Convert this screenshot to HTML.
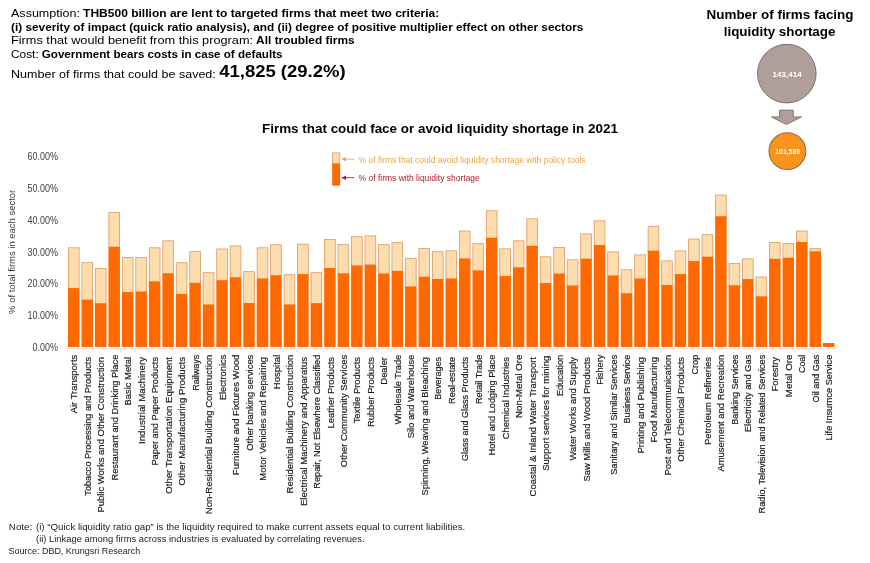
<!DOCTYPE html>
<html lang="en"><head><meta charset="utf-8"><title>Firms that could face or avoid liquidity shortage in 2021</title>
<style>
html,body{margin:0;padding:0;background:#fff;}
body{width:870px;height:563px;overflow:hidden;}
svg{display:block;}
text{font-family:"Liberation Sans",sans-serif;white-space:pre;}
</style></head><body>
<svg width="870" height="563" viewBox="0 0 870 563">
<rect width="870" height="563" fill="#fff"/>
<g id="header">
<text x="11.00" y="17.40" font-size="11.3" font-weight="400" fill="#000" text-anchor="start" textLength="68.99" lengthAdjust="spacingAndGlyphs">Assumption:</text><text x="83.05" y="17.40" font-size="11.3" font-weight="700" fill="#000" text-anchor="start" textLength="356.27" lengthAdjust="spacingAndGlyphs">THB500 billion are lent to targeted firms that meet two criteria:</text>
<text x="11.00" y="30.80" font-size="11.3" font-weight="700" fill="#000" text-anchor="start" textLength="572.37" lengthAdjust="spacingAndGlyphs">(i) severity of impact (quick ratio analysis), and (ii) degree of positive multiplier effect on other sectors</text>
<text x="11.00" y="44.30" font-size="11.3" font-weight="400" fill="#000" text-anchor="start" textLength="242.06" lengthAdjust="spacingAndGlyphs">Firms that would benefit from this program:</text><text x="256.13" y="44.30" font-size="11.3" font-weight="700" fill="#000" text-anchor="start" textLength="98.49" lengthAdjust="spacingAndGlyphs">All troubled firms</text>
<text x="11.00" y="58.20" font-size="11.3" font-weight="400" fill="#000" text-anchor="start" textLength="27.72" lengthAdjust="spacingAndGlyphs">Cost:</text><text x="41.79" y="58.20" font-size="11.3" font-weight="700" fill="#000" text-anchor="start" textLength="240.71" lengthAdjust="spacingAndGlyphs">Government bears costs in case of defaults</text>
<text x="11.00" y="77.60" font-size="11.3" font-weight="400" fill="#000" text-anchor="start" textLength="204.83" lengthAdjust="spacingAndGlyphs">Number of firms that could be saved:</text>
<text x="219.20" y="77.40" font-size="15.6" font-weight="700" fill="#000" text-anchor="start" textLength="126.40" lengthAdjust="spacingAndGlyphs">41,825 (29.2%)</text>
</g>
<text x="262.00" y="132.90" font-size="12.3" font-weight="700" fill="#000" text-anchor="start" textLength="355.90" lengthAdjust="spacingAndGlyphs">Firms that could face or avoid liquidity shortage in 2021</text>
<text x="706.60" y="19.00" font-size="12.5" font-weight="700" fill="#000" text-anchor="start" textLength="146.90" lengthAdjust="spacingAndGlyphs">Number of firms facing</text>
<text x="723.70" y="36.20" font-size="12.5" font-weight="700" fill="#000" text-anchor="start" textLength="111.80" lengthAdjust="spacingAndGlyphs">liquidity shortage</text>
<circle cx="786.8" cy="73.6" r="29.3" fill="#B09E9B" stroke="#806E6B" stroke-width="1"/>
<text x="772.60" y="77.00" font-size="7.8" font-weight="700" fill="#fff" text-anchor="start" textLength="29.00" lengthAdjust="spacingAndGlyphs">143,414</text>
<path d="M779.6 110.1H793.2V116.9H801.6L786.4 124.5L771.4 116.9H779.6Z" fill="#B09E9B" stroke="#806E6B" stroke-width="0.9"/>
<circle cx="787.4" cy="151.1" r="18.4" fill="#F8931D" stroke="#9A6A3E" stroke-width="1.1"/>
<text x="775.30" y="153.50" font-size="6.5" font-weight="700" fill="#fff" text-anchor="start" textLength="24.70" lengthAdjust="spacingAndGlyphs">101,589</text>
<rect x="332.6" y="152.9" width="7.2" height="10.8" fill="#FDDCAE" stroke="#DE9A62" stroke-width="0.8"/>
<rect x="332.2" y="163.7" width="8" height="22" fill="#FF6A00"/>
<path d="M342 159.2H354.2" stroke="#EFA94A" stroke-width="0.9" fill="none"/><path d="M341.6 159.2L346 157V161.4Z" fill="#EFA94A"/>
<path d="M342 177.7H354.2" stroke="#B01C2E" stroke-width="0.9" fill="none"/><path d="M341.6 177.7L346 175.5V179.9Z" fill="#B01C2E"/>
<text x="358.60" y="162.80" font-size="9.0" font-weight="400" fill="#E9A646" text-anchor="start" textLength="227.00" lengthAdjust="spacingAndGlyphs">% of firms that could avoid liquidity shortage with policy tools</text>
<text x="358.60" y="180.60" font-size="9.0" font-weight="400" fill="#A81C30" text-anchor="start" textLength="121.20" lengthAdjust="spacingAndGlyphs">% of firms with liquidity shortage</text>
<text x="32.60" y="351.00" font-size="10" font-weight="400" fill="#404040" text-anchor="start" textLength="25.30" lengthAdjust="spacingAndGlyphs">0.00%</text>
<text x="27.50" y="319.20" font-size="10" font-weight="400" fill="#404040" text-anchor="start" textLength="30.40" lengthAdjust="spacingAndGlyphs">10.00%</text>
<text x="27.50" y="287.40" font-size="10" font-weight="400" fill="#404040" text-anchor="start" textLength="30.40" lengthAdjust="spacingAndGlyphs">20.00%</text>
<text x="27.50" y="255.60" font-size="10" font-weight="400" fill="#404040" text-anchor="start" textLength="30.40" lengthAdjust="spacingAndGlyphs">30.00%</text>
<text x="27.50" y="223.80" font-size="10" font-weight="400" fill="#404040" text-anchor="start" textLength="30.40" lengthAdjust="spacingAndGlyphs">40.00%</text>
<text x="27.50" y="192.00" font-size="10" font-weight="400" fill="#404040" text-anchor="start" textLength="30.40" lengthAdjust="spacingAndGlyphs">50.00%</text>
<text x="27.50" y="160.20" font-size="10" font-weight="400" fill="#404040" text-anchor="start" textLength="30.40" lengthAdjust="spacingAndGlyphs">60.00%</text>
<text transform="translate(14.7,313.9) rotate(-90)" font-size="9.4" fill="#333" textLength="124.1" lengthAdjust="spacingAndGlyphs">% of total firms in each sector</text>
<path d="M67 348.6H836" stroke="#E2E4E8" stroke-width="1"/>
<g id="bars">
<rect x="68.40" y="247.80" width="10.70" height="40.80" fill="#FDDCAE" stroke="#DE9A62" stroke-width="0.8"/>
<rect x="68.00" y="288.20" width="11.50" height="58.80" fill="#FF6A00"/>
<rect x="81.88" y="262.70" width="10.70" height="37.40" fill="#FDDCAE" stroke="#DE9A62" stroke-width="0.8"/>
<rect x="81.48" y="299.70" width="11.50" height="47.30" fill="#FF6A00"/>
<rect x="95.36" y="268.40" width="10.70" height="35.40" fill="#FDDCAE" stroke="#DE9A62" stroke-width="0.8"/>
<rect x="94.96" y="303.40" width="11.50" height="43.60" fill="#FF6A00"/>
<rect x="108.85" y="212.60" width="10.70" height="34.60" fill="#FDDCAE" stroke="#DE9A62" stroke-width="0.8"/>
<rect x="108.45" y="246.80" width="11.50" height="100.20" fill="#FF6A00"/>
<rect x="122.33" y="257.60" width="10.70" height="34.90" fill="#FDDCAE" stroke="#DE9A62" stroke-width="0.8"/>
<rect x="121.93" y="292.10" width="11.50" height="54.90" fill="#FF6A00"/>
<rect x="135.81" y="257.60" width="10.70" height="34.50" fill="#FDDCAE" stroke="#DE9A62" stroke-width="0.8"/>
<rect x="135.41" y="291.70" width="11.50" height="55.30" fill="#FF6A00"/>
<rect x="149.29" y="247.80" width="10.70" height="34.10" fill="#FDDCAE" stroke="#DE9A62" stroke-width="0.8"/>
<rect x="148.89" y="281.50" width="11.50" height="65.50" fill="#FF6A00"/>
<rect x="162.77" y="240.80" width="10.70" height="33.10" fill="#FDDCAE" stroke="#DE9A62" stroke-width="0.8"/>
<rect x="162.37" y="273.50" width="11.50" height="73.50" fill="#FF6A00"/>
<rect x="176.26" y="262.70" width="10.70" height="31.70" fill="#FDDCAE" stroke="#DE9A62" stroke-width="0.8"/>
<rect x="175.86" y="294.00" width="11.50" height="53.00" fill="#FF6A00"/>
<rect x="189.74" y="251.70" width="10.70" height="31.60" fill="#FDDCAE" stroke="#DE9A62" stroke-width="0.8"/>
<rect x="189.34" y="282.90" width="11.50" height="64.10" fill="#FF6A00"/>
<rect x="203.22" y="272.70" width="10.70" height="32.30" fill="#FDDCAE" stroke="#DE9A62" stroke-width="0.8"/>
<rect x="202.82" y="304.60" width="11.50" height="42.40" fill="#FF6A00"/>
<rect x="216.70" y="249.00" width="10.70" height="31.70" fill="#FDDCAE" stroke="#DE9A62" stroke-width="0.8"/>
<rect x="216.30" y="280.30" width="11.50" height="66.70" fill="#FF6A00"/>
<rect x="230.18" y="245.90" width="10.70" height="31.90" fill="#FDDCAE" stroke="#DE9A62" stroke-width="0.8"/>
<rect x="229.78" y="277.40" width="11.50" height="69.60" fill="#FF6A00"/>
<rect x="243.67" y="271.70" width="10.70" height="31.70" fill="#FDDCAE" stroke="#DE9A62" stroke-width="0.8"/>
<rect x="243.27" y="303.00" width="11.50" height="44.00" fill="#FF6A00"/>
<rect x="257.15" y="247.80" width="10.70" height="31.20" fill="#FDDCAE" stroke="#DE9A62" stroke-width="0.8"/>
<rect x="256.75" y="278.60" width="11.50" height="68.40" fill="#FF6A00"/>
<rect x="270.63" y="244.70" width="10.70" height="31.10" fill="#FDDCAE" stroke="#DE9A62" stroke-width="0.8"/>
<rect x="270.23" y="275.40" width="11.50" height="71.60" fill="#FF6A00"/>
<rect x="284.11" y="274.70" width="10.70" height="30.30" fill="#FDDCAE" stroke="#DE9A62" stroke-width="0.8"/>
<rect x="283.71" y="304.60" width="11.50" height="42.40" fill="#FF6A00"/>
<rect x="297.59" y="244.10" width="10.70" height="30.40" fill="#FDDCAE" stroke="#DE9A62" stroke-width="0.8"/>
<rect x="297.19" y="274.10" width="11.50" height="72.90" fill="#FF6A00"/>
<rect x="311.08" y="272.70" width="10.70" height="30.90" fill="#FDDCAE" stroke="#DE9A62" stroke-width="0.8"/>
<rect x="310.68" y="303.20" width="11.50" height="43.80" fill="#FF6A00"/>
<rect x="324.56" y="239.40" width="10.70" height="29.00" fill="#FDDCAE" stroke="#DE9A62" stroke-width="0.8"/>
<rect x="324.16" y="268.00" width="11.50" height="79.00" fill="#FF6A00"/>
<rect x="338.04" y="244.70" width="10.70" height="29.20" fill="#FDDCAE" stroke="#DE9A62" stroke-width="0.8"/>
<rect x="337.64" y="273.50" width="11.50" height="73.50" fill="#FF6A00"/>
<rect x="351.52" y="236.70" width="10.70" height="29.30" fill="#FDDCAE" stroke="#DE9A62" stroke-width="0.8"/>
<rect x="351.12" y="265.60" width="11.50" height="81.40" fill="#FF6A00"/>
<rect x="365.00" y="235.90" width="10.70" height="29.20" fill="#FDDCAE" stroke="#DE9A62" stroke-width="0.8"/>
<rect x="364.60" y="264.70" width="11.50" height="82.30" fill="#FF6A00"/>
<rect x="378.49" y="244.70" width="10.70" height="29.40" fill="#FDDCAE" stroke="#DE9A62" stroke-width="0.8"/>
<rect x="378.09" y="273.70" width="11.50" height="73.30" fill="#FF6A00"/>
<rect x="391.97" y="242.70" width="10.70" height="28.60" fill="#FDDCAE" stroke="#DE9A62" stroke-width="0.8"/>
<rect x="391.57" y="270.90" width="11.50" height="76.10" fill="#FF6A00"/>
<rect x="405.45" y="258.60" width="10.70" height="28.40" fill="#FDDCAE" stroke="#DE9A62" stroke-width="0.8"/>
<rect x="405.05" y="286.60" width="11.50" height="60.40" fill="#FF6A00"/>
<rect x="418.93" y="248.60" width="10.70" height="28.60" fill="#FDDCAE" stroke="#DE9A62" stroke-width="0.8"/>
<rect x="418.53" y="276.80" width="11.50" height="70.20" fill="#FF6A00"/>
<rect x="432.41" y="251.70" width="10.70" height="27.70" fill="#FDDCAE" stroke="#DE9A62" stroke-width="0.8"/>
<rect x="432.01" y="279.00" width="11.50" height="68.00" fill="#FF6A00"/>
<rect x="445.90" y="250.80" width="10.70" height="28.20" fill="#FDDCAE" stroke="#DE9A62" stroke-width="0.8"/>
<rect x="445.50" y="278.60" width="11.50" height="68.40" fill="#FF6A00"/>
<rect x="459.38" y="231.00" width="10.70" height="28.00" fill="#FDDCAE" stroke="#DE9A62" stroke-width="0.8"/>
<rect x="458.98" y="258.60" width="11.50" height="88.40" fill="#FF6A00"/>
<rect x="472.86" y="243.70" width="10.70" height="27.20" fill="#FDDCAE" stroke="#DE9A62" stroke-width="0.8"/>
<rect x="472.46" y="270.50" width="11.50" height="76.50" fill="#FF6A00"/>
<rect x="486.34" y="210.80" width="10.70" height="27.40" fill="#FDDCAE" stroke="#DE9A62" stroke-width="0.8"/>
<rect x="485.94" y="237.80" width="11.50" height="109.20" fill="#FF6A00"/>
<rect x="499.82" y="248.80" width="10.70" height="27.60" fill="#FDDCAE" stroke="#DE9A62" stroke-width="0.8"/>
<rect x="499.42" y="276.00" width="11.50" height="71.00" fill="#FF6A00"/>
<rect x="513.31" y="240.80" width="10.70" height="27.00" fill="#FDDCAE" stroke="#DE9A62" stroke-width="0.8"/>
<rect x="512.91" y="267.40" width="11.50" height="79.60" fill="#FF6A00"/>
<rect x="526.79" y="218.80" width="10.70" height="27.50" fill="#FDDCAE" stroke="#DE9A62" stroke-width="0.8"/>
<rect x="526.39" y="245.90" width="11.50" height="101.10" fill="#FF6A00"/>
<rect x="540.27" y="256.80" width="10.70" height="26.70" fill="#FDDCAE" stroke="#DE9A62" stroke-width="0.8"/>
<rect x="539.87" y="283.10" width="11.50" height="63.90" fill="#FF6A00"/>
<rect x="553.75" y="247.40" width="10.70" height="26.70" fill="#FDDCAE" stroke="#DE9A62" stroke-width="0.8"/>
<rect x="553.35" y="273.70" width="11.50" height="73.30" fill="#FF6A00"/>
<rect x="567.23" y="259.80" width="10.70" height="26.20" fill="#FDDCAE" stroke="#DE9A62" stroke-width="0.8"/>
<rect x="566.83" y="285.60" width="11.50" height="61.40" fill="#FF6A00"/>
<rect x="580.72" y="233.90" width="10.70" height="25.30" fill="#FDDCAE" stroke="#DE9A62" stroke-width="0.8"/>
<rect x="580.32" y="258.80" width="11.50" height="88.20" fill="#FF6A00"/>
<rect x="594.20" y="220.80" width="10.70" height="24.70" fill="#FDDCAE" stroke="#DE9A62" stroke-width="0.8"/>
<rect x="593.80" y="245.10" width="11.50" height="101.90" fill="#FF6A00"/>
<rect x="607.68" y="251.90" width="10.70" height="24.10" fill="#FDDCAE" stroke="#DE9A62" stroke-width="0.8"/>
<rect x="607.28" y="275.60" width="11.50" height="71.40" fill="#FF6A00"/>
<rect x="621.16" y="269.80" width="10.70" height="23.90" fill="#FDDCAE" stroke="#DE9A62" stroke-width="0.8"/>
<rect x="620.76" y="293.30" width="11.50" height="53.70" fill="#FF6A00"/>
<rect x="634.64" y="254.90" width="10.70" height="24.10" fill="#FDDCAE" stroke="#DE9A62" stroke-width="0.8"/>
<rect x="634.24" y="278.60" width="11.50" height="68.40" fill="#FF6A00"/>
<rect x="648.13" y="226.60" width="10.70" height="24.60" fill="#FDDCAE" stroke="#DE9A62" stroke-width="0.8"/>
<rect x="647.73" y="250.80" width="11.50" height="96.20" fill="#FF6A00"/>
<rect x="661.61" y="260.90" width="10.70" height="24.50" fill="#FDDCAE" stroke="#DE9A62" stroke-width="0.8"/>
<rect x="661.21" y="285.00" width="11.50" height="62.00" fill="#FF6A00"/>
<rect x="675.09" y="250.90" width="10.70" height="23.50" fill="#FDDCAE" stroke="#DE9A62" stroke-width="0.8"/>
<rect x="674.69" y="274.00" width="11.50" height="73.00" fill="#FF6A00"/>
<rect x="688.57" y="239.00" width="10.70" height="22.50" fill="#FDDCAE" stroke="#DE9A62" stroke-width="0.8"/>
<rect x="688.17" y="261.10" width="11.50" height="85.90" fill="#FF6A00"/>
<rect x="702.05" y="234.70" width="10.70" height="22.50" fill="#FDDCAE" stroke="#DE9A62" stroke-width="0.8"/>
<rect x="701.65" y="256.80" width="11.50" height="90.20" fill="#FF6A00"/>
<rect x="715.54" y="195.10" width="10.70" height="21.70" fill="#FDDCAE" stroke="#DE9A62" stroke-width="0.8"/>
<rect x="715.14" y="216.40" width="11.50" height="130.60" fill="#FF6A00"/>
<rect x="729.02" y="263.60" width="10.70" height="22.20" fill="#FDDCAE" stroke="#DE9A62" stroke-width="0.8"/>
<rect x="728.62" y="285.40" width="11.50" height="61.60" fill="#FF6A00"/>
<rect x="742.50" y="258.90" width="10.70" height="20.60" fill="#FDDCAE" stroke="#DE9A62" stroke-width="0.8"/>
<rect x="742.10" y="279.10" width="11.50" height="67.90" fill="#FF6A00"/>
<rect x="755.98" y="277.00" width="10.70" height="19.90" fill="#FDDCAE" stroke="#DE9A62" stroke-width="0.8"/>
<rect x="755.58" y="296.50" width="11.50" height="50.50" fill="#FF6A00"/>
<rect x="769.46" y="242.50" width="10.70" height="16.80" fill="#FDDCAE" stroke="#DE9A62" stroke-width="0.8"/>
<rect x="769.06" y="258.90" width="11.50" height="88.10" fill="#FF6A00"/>
<rect x="782.95" y="243.60" width="10.70" height="14.60" fill="#FDDCAE" stroke="#DE9A62" stroke-width="0.8"/>
<rect x="782.55" y="257.80" width="11.50" height="89.20" fill="#FF6A00"/>
<rect x="796.43" y="231.00" width="10.70" height="11.40" fill="#FDDCAE" stroke="#DE9A62" stroke-width="0.8"/>
<rect x="796.03" y="242.00" width="11.50" height="105.00" fill="#FF6A00"/>
<rect x="809.91" y="248.70" width="10.70" height="3.10" fill="#FDDCAE" stroke="#DE9A62" stroke-width="0.8"/>
<rect x="809.51" y="251.40" width="11.50" height="95.60" fill="#FF6A00"/>
<rect x="822.99" y="343.00" width="11.50" height="4.00" fill="#FF6A00"/>
</g>
<g id="xlabels" font-size="8.8" fill="#1c1c1c" stroke="#1c1c1c" stroke-width="0.18">
<text transform="translate(77.35,413.33) rotate(-90)" textLength="58.63" lengthAdjust="spacingAndGlyphs">Air Transports</text>
<text transform="translate(90.83,495.66) rotate(-90)" textLength="138.66" lengthAdjust="spacingAndGlyphs">Tobacco Processing and Products</text>
<text transform="translate(104.31,512.60) rotate(-90)" textLength="155.60" lengthAdjust="spacingAndGlyphs">Public Works and Other Construction</text>
<text transform="translate(117.80,480.48) rotate(-90)" textLength="125.78" lengthAdjust="spacingAndGlyphs">Restaurant and Drinking Place</text>
<text transform="translate(131.28,405.39) rotate(-90)" textLength="48.39" lengthAdjust="spacingAndGlyphs">Basic Metal</text>
<text transform="translate(144.76,443.99) rotate(-90)" textLength="86.99" lengthAdjust="spacingAndGlyphs">Industrial Machinery</text>
<text transform="translate(158.24,465.53) rotate(-90)" textLength="108.53" lengthAdjust="spacingAndGlyphs">Paper and Paper Products</text>
<text transform="translate(171.72,493.76) rotate(-90)" textLength="136.76" lengthAdjust="spacingAndGlyphs">Other Transportation Equipment</text>
<text transform="translate(185.21,485.50) rotate(-90)" textLength="128.50" lengthAdjust="spacingAndGlyphs">Other Manufacturing Products</text>
<text transform="translate(198.69,390.75) rotate(-90)" textLength="36.05" lengthAdjust="spacingAndGlyphs">Railways</text>
<text transform="translate(212.17,514.16) rotate(-90)" textLength="159.46" lengthAdjust="spacingAndGlyphs">Non-Residential Building Construction</text>
<text transform="translate(225.65,400.30) rotate(-90)" textLength="45.60" lengthAdjust="spacingAndGlyphs">Electronics</text>
<text transform="translate(239.13,475.16) rotate(-90)" textLength="120.46" lengthAdjust="spacingAndGlyphs">Furniture and Fixtures Wood</text>
<text transform="translate(252.62,450.74) rotate(-90)" textLength="96.04" lengthAdjust="spacingAndGlyphs">Other banking services</text>
<text transform="translate(266.10,480.63) rotate(-90)" textLength="123.63" lengthAdjust="spacingAndGlyphs">Motor Vehicles and Repairing</text>
<text transform="translate(279.58,389.17) rotate(-90)" textLength="34.47" lengthAdjust="spacingAndGlyphs">Hospital</text>
<text transform="translate(293.06,493.39) rotate(-90)" textLength="138.69" lengthAdjust="spacingAndGlyphs">Residential Building Construction</text>
<text transform="translate(306.54,505.99) rotate(-90)" textLength="148.99" lengthAdjust="spacingAndGlyphs">Electrical Machinery and Apparatus</text>
<text transform="translate(320.03,488.69) rotate(-90)" textLength="133.99" lengthAdjust="spacingAndGlyphs">Repair, Not Elsewhere Classified</text>
<text transform="translate(333.51,428.45) rotate(-90)" textLength="71.45" lengthAdjust="spacingAndGlyphs">Leather Products</text>
<text transform="translate(346.99,467.15) rotate(-90)" textLength="112.45" lengthAdjust="spacingAndGlyphs">Other Community Services</text>
<text transform="translate(360.47,423.34) rotate(-90)" textLength="66.34" lengthAdjust="spacingAndGlyphs">Textile Products</text>
<text transform="translate(373.95,427.11) rotate(-90)" textLength="70.11" lengthAdjust="spacingAndGlyphs">Rubber Products</text>
<text transform="translate(387.44,384.64) rotate(-90)" textLength="27.64" lengthAdjust="spacingAndGlyphs">Dealer</text>
<text transform="translate(400.92,424.61) rotate(-90)" textLength="69.91" lengthAdjust="spacingAndGlyphs">Wholesale Trade</text>
<text transform="translate(414.40,438.22) rotate(-90)" textLength="83.52" lengthAdjust="spacingAndGlyphs">Silo and Warehouse</text>
<text transform="translate(427.88,495.55) rotate(-90)" textLength="138.55" lengthAdjust="spacingAndGlyphs">Spinning, Weaving and Bleaching</text>
<text transform="translate(441.36,399.83) rotate(-90)" textLength="42.83" lengthAdjust="spacingAndGlyphs">Beverages</text>
<text transform="translate(454.85,403.92) rotate(-90)" textLength="46.92" lengthAdjust="spacingAndGlyphs">Real-estate</text>
<text transform="translate(468.33,460.88) rotate(-90)" textLength="103.88" lengthAdjust="spacingAndGlyphs">Glass and Glass Products</text>
<text transform="translate(481.81,404.01) rotate(-90)" textLength="49.31" lengthAdjust="spacingAndGlyphs">Retail Trade</text>
<text transform="translate(495.29,455.45) rotate(-90)" textLength="100.75" lengthAdjust="spacingAndGlyphs">Hotel and Lodging Place</text>
<text transform="translate(508.77,439.29) rotate(-90)" textLength="82.29" lengthAdjust="spacingAndGlyphs">Chemical Industries</text>
<text transform="translate(522.26,417.94) rotate(-90)" textLength="63.24" lengthAdjust="spacingAndGlyphs">Non-Metal Ore</text>
<text transform="translate(535.74,496.39) rotate(-90)" textLength="139.39" lengthAdjust="spacingAndGlyphs">Coastal &amp; Inland Water Transport</text>
<text transform="translate(549.22,470.83) rotate(-90)" textLength="115.03" lengthAdjust="spacingAndGlyphs">Support services for mining</text>
<text transform="translate(562.70,396.33) rotate(-90)" textLength="41.63" lengthAdjust="spacingAndGlyphs">Education</text>
<text transform="translate(576.18,460.40) rotate(-90)" textLength="103.40" lengthAdjust="spacingAndGlyphs">Water Works and Supply</text>
<text transform="translate(589.67,481.52) rotate(-90)" textLength="124.52" lengthAdjust="spacingAndGlyphs">Saw Mills and Wood Products</text>
<text transform="translate(603.15,384.84) rotate(-90)" textLength="30.14" lengthAdjust="spacingAndGlyphs">Fishery</text>
<text transform="translate(616.63,474.79) rotate(-90)" textLength="120.09" lengthAdjust="spacingAndGlyphs">Sanitary and Similar Services</text>
<text transform="translate(630.11,423.47) rotate(-90)" textLength="68.77" lengthAdjust="spacingAndGlyphs">Business Service</text>
<text transform="translate(643.59,453.50) rotate(-90)" textLength="96.50" lengthAdjust="spacingAndGlyphs">Printing and Publishing</text>
<text transform="translate(657.08,442.56) rotate(-90)" textLength="85.56" lengthAdjust="spacingAndGlyphs">Food Manufacturing</text>
<text transform="translate(670.56,475.47) rotate(-90)" textLength="120.77" lengthAdjust="spacingAndGlyphs">Post and Telecommunication</text>
<text transform="translate(684.04,461.68) rotate(-90)" textLength="104.68" lengthAdjust="spacingAndGlyphs">Other Chemical Products</text>
<text transform="translate(697.52,374.58) rotate(-90)" textLength="19.88" lengthAdjust="spacingAndGlyphs">Crop</text>
<text transform="translate(711.00,445.00) rotate(-90)" textLength="88.00" lengthAdjust="spacingAndGlyphs">Petroleum Refineries</text>
<text transform="translate(724.49,471.55) rotate(-90)" textLength="116.85" lengthAdjust="spacingAndGlyphs">Amusement and Recreation</text>
<text transform="translate(737.97,424.76) rotate(-90)" textLength="70.06" lengthAdjust="spacingAndGlyphs">Banking Services</text>
<text transform="translate(751.45,432.13) rotate(-90)" textLength="77.43" lengthAdjust="spacingAndGlyphs">Electricity and Gas</text>
<text transform="translate(764.93,513.41) rotate(-90)" textLength="158.71" lengthAdjust="spacingAndGlyphs">Radio, Television and Related Services</text>
<text transform="translate(778.41,391.47) rotate(-90)" textLength="34.47" lengthAdjust="spacingAndGlyphs">Forestry</text>
<text transform="translate(791.90,397.17) rotate(-90)" textLength="42.47" lengthAdjust="spacingAndGlyphs">Metal Ore</text>
<text transform="translate(805.38,373.03) rotate(-90)" textLength="18.33" lengthAdjust="spacingAndGlyphs">Coal</text>
<text transform="translate(818.86,402.40) rotate(-90)" textLength="47.70" lengthAdjust="spacingAndGlyphs">Oil and Gas</text>
<text transform="translate(832.34,440.53) rotate(-90)" textLength="85.83" lengthAdjust="spacingAndGlyphs">Life Insurnce Service</text>
</g>
<text x="8.80" y="530.40" font-size="8.6" font-weight="400" fill="#222" text-anchor="start" textLength="23.46" lengthAdjust="spacingAndGlyphs">Note:</text>
<text x="36.00" y="530.40" font-size="8.6" font-weight="400" fill="#222" text-anchor="start" textLength="429.20" lengthAdjust="spacingAndGlyphs">(i) “Quick liquidity ratio gap” is the liquidity required to make current assets equal to current liabilities.</text>
<text x="36.00" y="541.70" font-size="8.6" font-weight="400" fill="#222" text-anchor="start" textLength="328.61" lengthAdjust="spacingAndGlyphs">(ii) Linkage among firms across industries is evaluated by correlating revenues.</text>
<text x="8.40" y="553.50" font-size="8.6" font-weight="400" fill="#222" text-anchor="start" textLength="131.96" lengthAdjust="spacingAndGlyphs">Source: DBD, Krungsri Research</text>
</svg></body></html>
